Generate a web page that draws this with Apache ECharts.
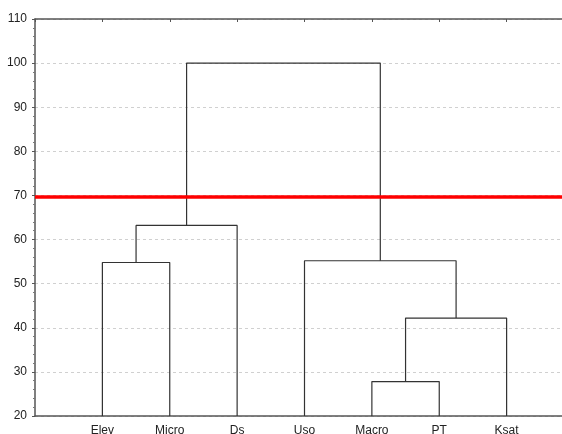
<!DOCTYPE html>
<html>
<head>
<meta charset="utf-8">
<script src="https://cdn.jsdelivr.net/npm/echarts@6/dist/echarts.min.js"></script>
<style>
  html, body { margin: 0; padding: 0; background: #fff; }
  #main { width: 562px; height: 434px; }
</style>
</head>
<body>
<div id="main"></div>
<script>
// 叶节点（横轴顺序）
var leaves = ['Elev', 'Micro', 'Ds', 'Uso', 'Macro', 'PT', 'Ksat'];
// 合并：[左簇, 右簇, 高度]，簇编号 0-6 为叶子，7 以后为新簇
var merges = [
  [4, 5, 27.8],   // 7: Macro+PT
  [7, 6, 42.2],   // 8: +Ksat
  [0, 1, 54.8],   // 9: Elev+Micro
  [3, 8, 55.2],   // 10: Uso+...
  [9, 2, 63.2],   // 11: +Ds
  [11, 10, 100]   // 12: 全部
];
var cutHeight = 69.7;
var yTicks = [20, 30, 40, 50, 60, 70, 80, 90, 100, 110];

(function () {
  var myChart = echarts.init(document.getElementById('main'));
  var base = yTicks[0];
  // 每个簇的位置和高度
  var pos = [], hgt = [];
  leaves.forEach(function (name, i) {
    pos.push(i + 1);
    hgt.push(base);
  });
  var series = [];
  merges.forEach(function (m) {
    var a = m[0], b = m[1], h = m[2];
    series.push({
      type: 'line',
      symbol: 'none',
      silent: true,
      lineStyle: { color: '#333', width: 1.2 },
      data: [[pos[a], hgt[a]], [pos[a], h], [pos[b], h], [pos[b], hgt[b]]]
    });
    pos.push((pos[a] + pos[b]) / 2);
    hgt.push(h);
  });
  // 红色切割线
  series.push({
    type: 'line',
    symbol: 'none',
    silent: true,
    data: [],
    markLine: {
      symbol: 'none',
      silent: true,
      label: { show: false },
      lineStyle: { color: '#ff0000', width: 3.5, type: 'solid' },
      data: [{ yAxis: cutHeight }]
    }
  });

  var axisColor = '#555';
  var option = {
    animation: false,
    grid: { left: 35, top: 19, bottom: 18, right: -12, outerBoundsMode: 'none', containLabel: false },
    xAxis: [{
      type: 'value',
      min: 0,
      max: 8,
      interval: 1,
      position: 'bottom',
      axisLine: { show: true, lineStyle: { color: axisColor, width: 1.5 } },
      axisTick: { show: false },
      splitLine: { show: false },
      axisLabel: {
        color: '#222',
        fontSize: 12,
        fontFamily: 'Liberation Sans, Arial',
        margin: 9,
        formatter: function (v) { return leaves[v - 1] || ''; }
      }
    }, {
      type: 'value',
      min: 0,
      max: 8,
      interval: 1,
      position: 'top',
      axisLine: { show: true, onZero: false, lineStyle: { color: axisColor, width: 1.5 } },
      axisTick: { show: true, inside: true, length: 3, lineStyle: { color: axisColor } },
      splitLine: { show: false },
      axisLabel: { show: false }
    }],
    yAxis: {
      type: 'value',
      min: yTicks[0],
      max: yTicks[yTicks.length - 1],
      interval: 10,
      axisLine: { show: true, lineStyle: { color: axisColor, width: 1.5 } },
      axisTick: { show: true, length: 3, lineStyle: { color: axisColor } },
      minorTick: { show: true, splitNumber: 5, length: 2, lineStyle: { color: '#777' } },
      splitLine: { show: true, lineStyle: { color: '#d0d0d0', type: [3, 3] } },
      axisLabel: { color: '#222', fontSize: 12, fontFamily: 'Liberation Sans, Arial', margin: 8 }
    },
    series: series
  };
  myChart.setOption(option);
})();
</script>
</body>
</html>
